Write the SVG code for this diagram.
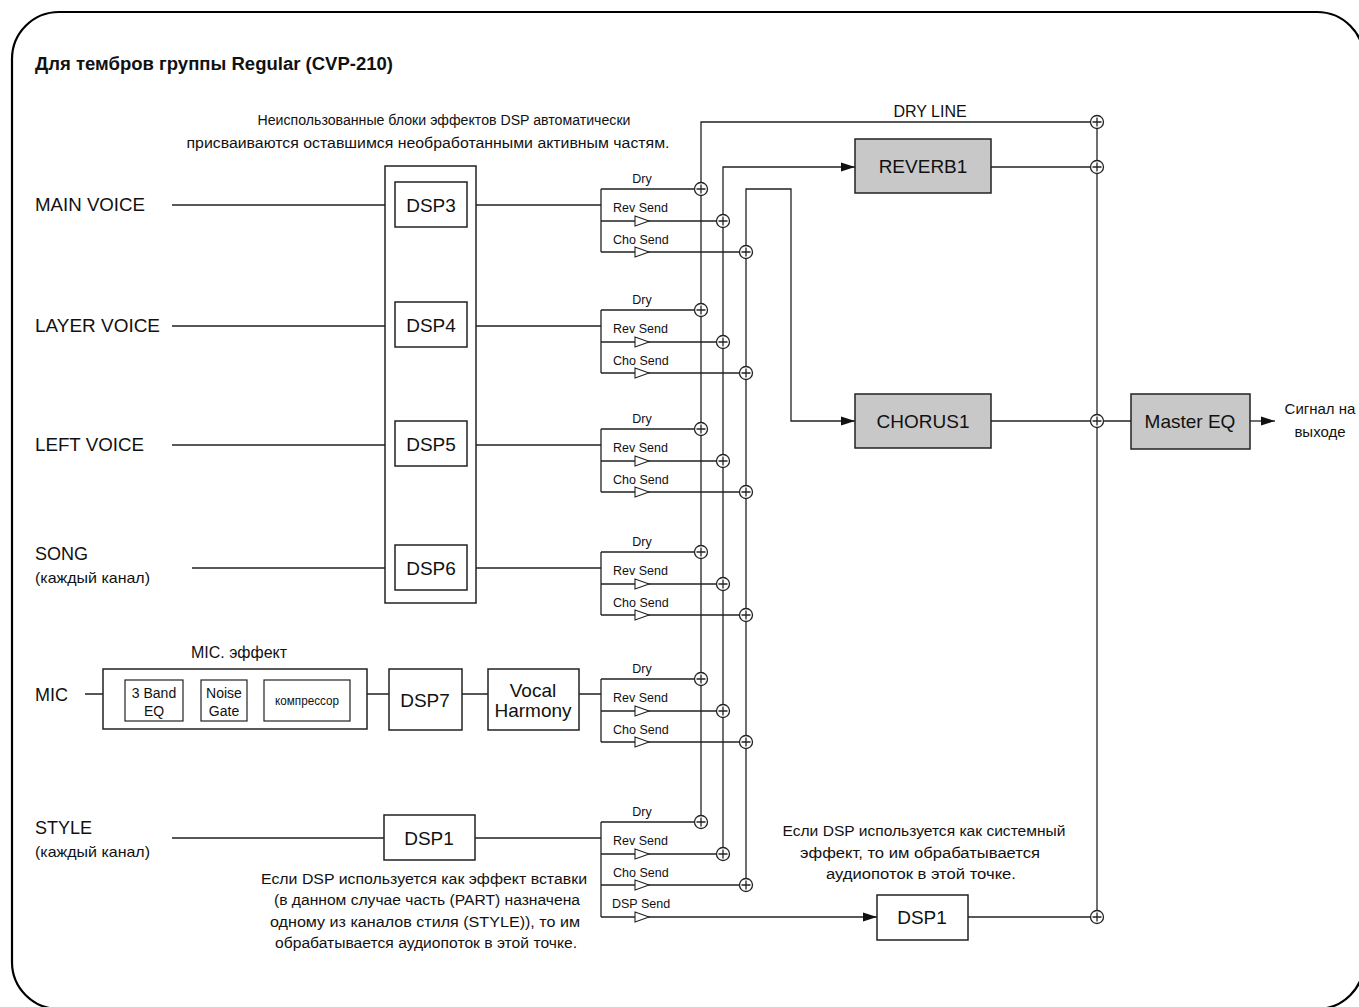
<svg xmlns="http://www.w3.org/2000/svg" width="1359" height="1007" viewBox="0 0 1359 1007">
<defs>
<style>
text{font-family:"Liberation Sans",Arial,sans-serif;fill:#111}
.ln{fill:none;stroke:#222;stroke-width:1.3}
.box{fill:#fff;stroke:#222;stroke-width:1.5}
.gbox{fill:#c8c8c8;stroke:#222;stroke-width:1.5}
.sum{fill:#fff;stroke:#222;stroke-width:1.3}
.tri{fill:#fff;stroke:#222;stroke-width:1.1}
.lbl{font-size:18.5px}
.sub{font-size:15px}
.bx{font-size:19px;text-anchor:middle}
.sm{font-size:12.5px}
.note{font-size:14px;text-anchor:middle}
</style>
<marker id="ah" markerUnits="userSpaceOnUse" markerWidth="14" markerHeight="10" refX="14" refY="5" orient="auto">
<path d="M0,0.5 L14,5 L0,9.5 z" fill="#111"/>
</marker>
<g id="plus">
<circle class="sum" r="6.5"/>
<path class="ln" d="M-4.5,0 H4.5 M0,-4.5 V4.5"/>
</g>
<path id="sendtri" class="tri" d="M0,-5 L14,0 L0,5 z"/>
</defs>

<rect x="12" y="12" width="1352" height="997" rx="47" ry="47" fill="none" stroke="#000" stroke-width="2.2"/>

<text x="35" y="70" style="font-size:18px;font-weight:bold" textLength="358" lengthAdjust="spacingAndGlyphs">Для тембров группы Regular (CVP-210)</text>

<text class="note" x="444" y="125" textLength="373" lengthAdjust="spacingAndGlyphs">Неиспользованные блоки эффектов DSP автоматически</text>
<text class="note" x="428" y="148" textLength="483" lengthAdjust="spacingAndGlyphs">присваиваются оставшимся необработанными активным частям.</text>

<text x="930" y="117" style="font-size:16px" text-anchor="middle">DRY LINE</text>

<!-- input labels -->
<text class="lbl" x="35" y="211" textLength="110" lengthAdjust="spacingAndGlyphs">MAIN VOICE</text>
<text class="lbl" x="35" y="332" textLength="125" lengthAdjust="spacingAndGlyphs">LAYER VOICE</text>
<text class="lbl" x="35" y="451" textLength="109" lengthAdjust="spacingAndGlyphs">LEFT VOICE</text>
<text class="lbl" x="35" y="560" textLength="53" lengthAdjust="spacingAndGlyphs">SONG</text>
<text class="sub" x="35" y="583" textLength="115" lengthAdjust="spacingAndGlyphs">(каждый канал)</text>
<text class="lbl" x="35" y="701" textLength="33" lengthAdjust="spacingAndGlyphs">MIC</text>
<text class="lbl" x="35" y="834" textLength="57" lengthAdjust="spacingAndGlyphs">STYLE</text>
<text class="sub" x="35" y="857" textLength="115" lengthAdjust="spacingAndGlyphs">(каждый канал)</text>

<!-- connectors -->
<g id="connectors">
<path class="ln" d="M172,205 H385 M476,205 H601"/>
<path class="ln" d="M172,326 H385 M476,326 H601"/>
<path class="ln" d="M172,445 H385 M476,445 H601"/>
<path class="ln" d="M192,568 H395 M467,568 H601"/>
<path class="ln" d="M85,694 H103 M367,694 H389 M462,694 H488 M579,694 H601"/>
<path class="ln" d="M172,838 H384 M475,838 H601"/>

<!-- send brackets -->
<path class="ln" d="M601,189 V252 M601,189 H694.5 M601,221 H716.5 M601,252 H739.5"/>
<path class="ln" d="M601,310 V373 M601,310 H694.5 M601,342 H716.5 M601,373 H739.5"/>
<path class="ln" d="M601,429 V492 M601,429 H694.5 M601,461 H716.5 M601,492 H739.5"/>
<path class="ln" d="M601,552 V615 M601,552 H694.5 M601,584 H716.5 M601,615 H739.5"/>
<path class="ln" d="M601,679 V742 M601,679 H694.5 M601,711 H716.5 M601,742 H739.5"/>
<path class="ln" d="M601,822 V917 M601,822 H694.5 M601,854 H716.5 M601,885 H739.5"/>

<!-- buses -->
<path class="ln" d="M701,822 V122 H1090.5"/>
<path class="ln" d="M723,854 V167 H855" marker-end="url(#ah)"/>
<path class="ln" d="M746,885 V189 H791 V421 H855" marker-end="url(#ah)"/>
<path class="ln" d="M991,167 H1090.5"/>
<path class="ln" d="M991,421 H1131"/>
<path class="ln" d="M1097,122 V917"/>
<path class="ln" d="M1250,421 H1275" marker-end="url(#ah)"/>
<path class="ln" d="M601,917 H877" marker-end="url(#ah)"/>
<path class="ln" d="M968,917 H1090.5"/>

<!-- send triangles -->
<use href="#sendtri" x="635" y="221"/><use href="#sendtri" x="635" y="252"/>
<use href="#sendtri" x="635" y="342"/><use href="#sendtri" x="635" y="373"/>
<use href="#sendtri" x="635" y="461"/><use href="#sendtri" x="635" y="492"/>
<use href="#sendtri" x="635" y="584"/><use href="#sendtri" x="635" y="615"/>
<use href="#sendtri" x="635" y="711"/><use href="#sendtri" x="635" y="742"/>
<use href="#sendtri" x="635" y="854"/><use href="#sendtri" x="635" y="885"/>
<use href="#sendtri" x="635" y="917"/>

<!-- summing points -->
<use href="#plus" x="701" y="189"/><use href="#plus" x="723" y="221"/><use href="#plus" x="746" y="252"/>
<use href="#plus" x="701" y="310"/><use href="#plus" x="723" y="342"/><use href="#plus" x="746" y="373"/>
<use href="#plus" x="701" y="429"/><use href="#plus" x="723" y="461"/><use href="#plus" x="746" y="492"/>
<use href="#plus" x="701" y="552"/><use href="#plus" x="723" y="584"/><use href="#plus" x="746" y="615"/>
<use href="#plus" x="701" y="679"/><use href="#plus" x="723" y="711"/><use href="#plus" x="746" y="742"/>
<use href="#plus" x="701" y="822"/><use href="#plus" x="723" y="854"/><use href="#plus" x="746" y="885"/>
<use href="#plus" x="1097" y="122"/><use href="#plus" x="1097" y="167"/>
<use href="#plus" x="1097" y="421"/><use href="#plus" x="1097" y="917"/>

<!-- send labels -->
<g class="sm">
<text x="642" y="183" text-anchor="middle">Dry</text>
<text x="613" y="212">Rev Send</text>
<text x="613" y="244">Cho Send</text>
<text x="642" y="304" text-anchor="middle">Dry</text>
<text x="613" y="333">Rev Send</text>
<text x="613" y="365">Cho Send</text>
<text x="642" y="423" text-anchor="middle">Dry</text>
<text x="613" y="452">Rev Send</text>
<text x="613" y="484">Cho Send</text>
<text x="642" y="546" text-anchor="middle">Dry</text>
<text x="613" y="575">Rev Send</text>
<text x="613" y="607">Cho Send</text>
<text x="642" y="673" text-anchor="middle">Dry</text>
<text x="613" y="702">Rev Send</text>
<text x="613" y="734">Cho Send</text>
<text x="642" y="816" text-anchor="middle">Dry</text>
<text x="613" y="845">Rev Send</text>
<text x="613" y="877">Cho Send</text>
<text x="612" y="908">DSP Send</text>
</g>
</g>

<!-- nodes -->
<g id="dsp-group"><rect class="box" x="385" y="166" width="91" height="437"/></g>
<g id="dsp3"><rect class="box" x="395" y="182" width="72" height="45"/><text class="bx" x="431" y="212">DSP3</text></g>
<g id="dsp4"><rect class="box" x="395" y="302" width="72" height="45"/><text class="bx" x="431" y="332">DSP4</text></g>
<g id="dsp5"><rect class="box" x="395" y="421" width="72" height="45"/><text class="bx" x="431" y="451">DSP5</text></g>
<g id="dsp6"><rect class="box" x="395" y="545" width="72" height="45"/><text class="bx" x="431" y="575">DSP6</text></g>

<g id="mic-effect">
<text x="239" y="658" style="font-size:16px" text-anchor="middle">MIC. эффект</text>
<rect class="box" x="103" y="669" width="264" height="60"/>
<rect class="box" x="125" y="680" width="58" height="41" style="stroke-width:1.2"/>
<text x="154" y="698" style="font-size:14px" text-anchor="middle">3 Band</text>
<text x="154" y="716" style="font-size:14px" text-anchor="middle">EQ</text>
<rect class="box" x="201" y="680" width="46" height="41" style="stroke-width:1.2"/>
<text x="224" y="698" style="font-size:14px" text-anchor="middle">Noise</text>
<text x="224" y="716" style="font-size:14px" text-anchor="middle">Gate</text>
<rect class="box" x="264" y="680" width="86" height="41" style="stroke-width:1.2"/>
<text x="307" y="705" style="font-size:12px" text-anchor="middle" textLength="64" lengthAdjust="spacingAndGlyphs">компрессор</text>
</g>
<g id="dsp7"><rect class="box" x="389" y="669" width="73" height="61"/><text class="bx" x="425" y="707">DSP7</text></g>
<g id="vocal-harmony"><rect class="box" x="488" y="669" width="91" height="61"/><text class="bx" x="533" y="697">Vocal</text><text class="bx" x="533" y="717">Harmony</text></g>

<g id="dsp1-style"><rect class="box" x="384" y="815" width="91" height="45"/><text class="bx" x="429" y="845">DSP1</text></g>

<g id="reverb1"><rect class="gbox" x="855" y="139" width="136" height="54"/><text class="bx" x="923" y="173">REVERB1</text></g>
<g id="chorus1"><rect class="gbox" x="855" y="394" width="136" height="54"/><text class="bx" x="923" y="428">CHORUS1</text></g>
<g id="master-eq"><rect class="gbox" x="1131" y="394" width="119" height="55"/><text class="bx" x="1190" y="428">Master EQ</text></g>
<g id="dsp1-system"><rect class="box" x="877" y="895" width="91" height="45"/><text class="bx" x="922" y="924">DSP1</text></g>

<g id="output"><text x="1320" y="414" style="font-size:15px" text-anchor="middle">Сигнал на</text><text x="1320" y="437" style="font-size:15px" text-anchor="middle">выходе</text></g>

<!-- notes -->
<text class="note" x="424" y="884" textLength="326" lengthAdjust="spacingAndGlyphs">Если DSP используется как эффект вставки</text>
<text class="note" x="427" y="905" textLength="306" lengthAdjust="spacingAndGlyphs">(в данном случае часть (PART) назначена</text>
<text class="note" x="425" y="927" textLength="310" lengthAdjust="spacingAndGlyphs">одному из каналов стиля (STYLE)), то им</text>
<text class="note" x="426" y="948" textLength="302" lengthAdjust="spacingAndGlyphs">обрабатывается аудиопоток в этой точке.</text>

<text class="note" x="924" y="836" textLength="283" lengthAdjust="spacingAndGlyphs">Если DSP используется как системный</text>
<text class="note" x="920" y="858" textLength="240" lengthAdjust="spacingAndGlyphs">эффект, то им обрабатывается</text>
<text class="note" x="921" y="879" textLength="190" lengthAdjust="spacingAndGlyphs">аудиопоток в этой точке.</text>
</svg>
